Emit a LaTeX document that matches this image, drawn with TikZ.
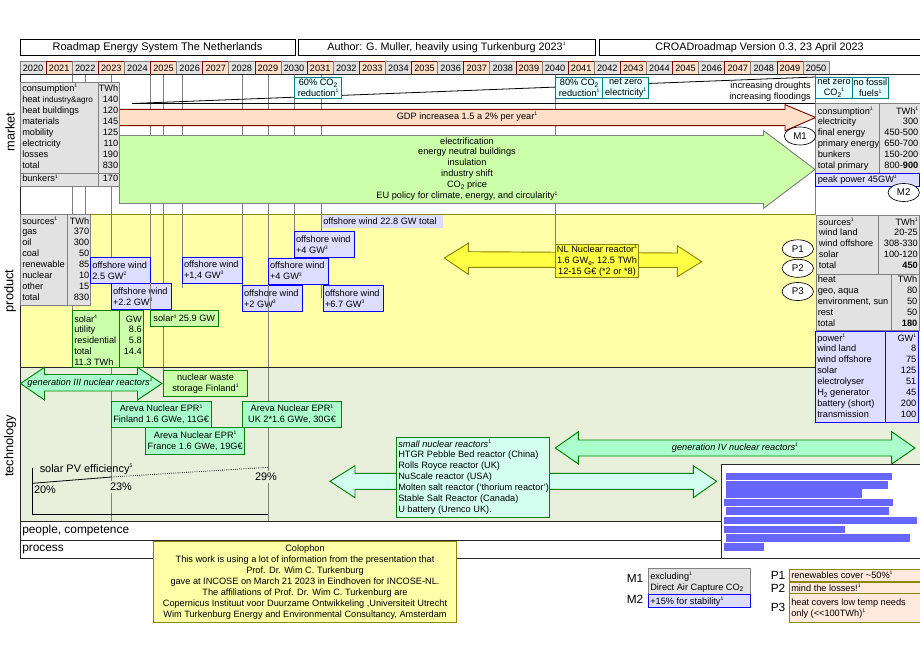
\documentclass[tikz,border=0pt]{standalone}
\usepackage{fontspec}
\usepackage{xcolor}
\usetikzlibrary{shapes.geometric}
\setmainfont{Liberation Sans}

\definecolor{peachfill}{HTML}{FFDFC8}
\definecolor{greyfill}{HTML}{E2E2E2}
\definecolor{lavfill}{HTML}{DDDDFF}
\definecolor{leaffill}{HTML}{CCFFAA}
\definecolor{mintfill}{HTML}{AAFFCC}
\definecolor{icefill}{HTML}{D2FFF0}
\definecolor{creamfill}{HTML}{FFFFA8}
\definecolor{sunfill}{HTML}{FFFF44}
\definecolor{techfill}{HTML}{E8F0DC}
\definecolor{tealfill}{HTML}{E4FFFF}
\definecolor{notefill}{HTML}{FFE9DC}

\newcommand{\refmark}[1]{\raisebox{.75ex}{\fontsize{3.8}{4}\selectfont #1}}
\newcommand{\lowmark}[1]{\raisebox{-.35ex}{\fontsize{5}{5}\selectfont #1}}

% rows of a table: name, x of left column, x of right column, first baseline, rows
\newcommand{\tablerows}[5]{
  \foreach \ltxt/\rtxt [count=\r] in {#5} {
    \node[celltxt,anchor=base west] (#1l\r) at (#2,{#4+10.97*(\r-1)}) {\ltxt};
    \node[celltxt,anchor=base east] (#1r\r) at (#3,{#4+10.97*(\r-1)}) {\rtxt};
  }
}
% offshore wind box: name, corners, second line
\newcommand{\windbox}[6]{
  \draw[bluebox] (#2,#3) rectangle (#4,#5);
  \node[boxtxt,align=left,anchor=west] (#1) at ({#2+1.5},{(#3+#5)/2}) {offshore wind\\#6};
}

\tikzset{
  celltxt/.style={inner sep=0pt,font=\fontsize{6.9}{8.2}\selectfont},
  boxtxt/.style={inner sep=0pt,align=center,font=\fontsize{6.9}{8.2}\selectfont},
  bigtxt/.style={inner sep=0pt,font=\fontsize{8.9}{10}\selectfont},
  pvtxt/.style={inner sep=0pt,font=\fontsize{8.2}{9}\selectfont},
  sidetxt/.style={inner sep=0pt,rotate=90,font=\fontsize{9.6}{10}\selectfont},
  titlebox/.style={draw=black,fill=white,line width=0.6pt},
  yeargrey/.style={draw=gray,fill=greyfill,line width=0.6pt},
  yearpeach/.style={draw=red!50!black,fill=peachfill,line width=0.6pt},
  greybox/.style={draw=gray,fill=greyfill,line width=0.6pt},
  bluebox/.style={draw=blue,fill=lavfill,line width=0.7pt},
  leafbox/.style={draw=green!50!black,fill=leaffill,line width=0.7pt},
  mintbox/.style={draw=green!50!black,fill=mintfill,line width=0.7pt},
  icebox/.style={draw=green!50!black,fill=icefill,line width=0.6pt},
  tealbox/.style={draw=teal,fill=tealfill,line width=0.6pt},
  olivebox/.style={draw=olive,fill=notefill,line width=0.7pt},
  gridline/.style={draw=gray,line width=0.6pt},
  frameline/.style={draw=black!85,line width=0.6pt},
  oval/.style={ellipse,draw=black,fill=white,inner sep=0pt,line width=0.5pt,
    minimum width=23.5pt,minimum height=13.5pt,font=\fontsize{7.3}{8.2}\selectfont},
}

\begin{document}
\begin{tikzpicture}[x=0.75pt,y=-0.75pt]
\useasboundingbox (0,0) rectangle (920,660);

% section backgrounds
\fill[creamfill] (20,214) rectangle (815.7,367);
\fill[techfill] (20,367) rectangle (920,521);

% titles
\draw[titlebox] (20,39.3) rectangle (295,55.3) node[midway,font=\fontsize{8.25}{9}\selectfont] (title) {Roadmap Energy System The Netherlands};
\draw[titlebox] (298,39.3) rectangle (595,55.3) node[midway,font=\fontsize{8.1}{9}\selectfont] (author) {Author: G. Muller, heavily using Turkenburg 2023\refmark{1}};
\draw[titlebox] (599,39.3) rectangle (920,55.3) node[midway,font=\fontsize{8.1}{9}\selectfont] (version) {CROADroadmap Version 0.3, 23 April 2023};

% years
\foreach \yr [count=\i from 0] in {2020,...,2050} {
  \pgfmathsetmacro{\xa}{20+26.1*\i}
  \pgfmathsetmacro{\xb}{20+26.1*(\i+1)}
  \ifodd\i
    \draw[yearpeach] (\xa,61.8) rectangle (\xb,74.5) node[midway,font=\fontsize{6.9}{8}\selectfont] (y\yr) {\yr};
  \else
    \draw[yeargrey] (\xa,61.8) rectangle (\xb,74.5) node[midway,font=\fontsize{6.9}{8}\selectfont] (y\yr) {\yr};
  \fi
}

% grid lines falling from the year row
\foreach \xpos/\yend in {72.5/367,85.5/214,111.5/521,150.5/317,163.5/370,182.5/288,242.5/285,294.5/232,321.5/298,555.5/244,815.7/214} {
  \draw[gridline] (\xpos,74.5) -- (\xpos,\yend);
}
\draw[gridline] (268.5,74.5) -- (268.5,521);

% frame
\draw[frameline] (20,74.5) -- (920,74.5);
\draw[frameline] (20,74.5) -- (20,558);
\draw[draw=olive,line width=0.6pt] (20,214) -- (815.7,214);
\draw[frameline] (20,367) -- (815.7,367);
\draw[frameline] (20,521) -- (722,521);
\draw[frameline] (20,540) -- (722,540);
\draw[frameline] (20,558) -- (722,558);
\draw[draw=black,line width=0.6pt] (132,103.5) -- (815.7,103.5);
\draw[draw=black,line width=0.6pt] (132,103.5) -- (815.7,77);

\node[sidetxt] (market) at (10,132) {market};
\node[sidetxt] (product) at (10,291) {product};
\node[sidetxt] (technology) at (10,446) {technology};
\node[bigtxt,anchor=base west] (people) at (22,533.5) {people, competence};
\node[bigtxt,anchor=base west] (process) at (22,551.5) {process};

% market: CO2 goals
\draw[tealbox] (294.5,77.3) rectangle (341.7,98.5) node[midway,boxtxt] (goal60) {60\% CO\lowmark{2}\\reduction\refmark{1}};
\draw[tealbox] (555.7,77.3) rectangle (602.7,98.5) node[midway,boxtxt] (goal80) {80\% CO\lowmark{2}\\reduction\refmark{1}};
\draw[tealbox] (602.7,77.3) rectangle (648.7,98.5) node[midway,boxtxt] (goalelec) {net zero\\electricity\refmark{1}};
\draw[tealbox] (815.7,77.3) rectangle (852.3,98.5) node[midway,boxtxt] (goalco) {net zero\\CO\lowmark{2}\refmark{1}};
\draw[tealbox] (852.3,77.3) rectangle (888.3,98.5) node[midway,boxtxt] (goalfuel) {no fossil\\fuels\refmark{1}};
\node[boxtxt,align=right,anchor=east] (climate) at (811,92) {increasing droughts\\increasing floodings};

% market: arrows
\draw[draw=red!50!black,fill=peachfill,line width=0.7pt] (119.5,109.3) -- (785,109.3) -- (785,104.7) -- (815.7,117.5) -- (785,130.8) -- (785,125.7) -- (119.5,125.7) -- cycle;
\node[boxtxt] (gdp) at (467,117) {GDP increasea 1.5 a 2\% per year\refmark{1}};
\draw[draw=gray,fill=leaffill,line width=0.7pt] (119.5,135.5) -- (763.5,135.5) -- (763.5,130.6) -- (815,169.5) -- (763.5,208.3) -- (763.5,203.5) -- (119.5,203.5) -- cycle;
\node[boxtxt] (policy) at (467,169) {electrification\\energy neutral buildings\\insulation\\industry shift\\CO\lowmark{2} price\\EU policy for climate, energy, and circularity\refmark{1}};

% market: consumption now
\draw[greybox] (20.5,82.3) rectangle (119.3,173.3);
\draw[greybox] (20.5,173.3) rectangle (119.3,186.3);
\draw[gridline] (98.5,82.3) -- (98.5,186.3);
\tablerows{cons}{22}{118.5}{91.5}{consumption\refmark{1}/TWh,heat {\fontsize{6.1}{8}\selectfont industry\&agro}/140,heat buildings/120,materials/145,mobility/125,electricity/110,losses/190,total/830}
\node[celltxt,anchor=base west] (bunk) at (22,181.8) {bunkers\refmark{1}};
\node[celltxt,anchor=base east] (bunkval) at (118.5,181.8) {170};

% market: consumption 2050
\draw[greybox] (815.7,103.3) rectangle (920,173);
\draw[gridline] (879.3,103.3) -- (879.3,173);
\tablerows{fut}{817.5}{918.5}{114}{consumption\refmark{1}/TWh\refmark{1},electricity/300,final energy/450-500,primary energy/650-700,bunkers/150-200,total primary/800-\textbf{900}}
\draw[bluebox] (815.7,173) rectangle (919,186);
\node[celltxt,anchor=base west] (peak) at (817.5,182.5) {peak power 45GW\refmark{1}};
\node[oval] (M1) at (800,136) {M1};
\node[oval] (M2) at (903.7,192.5) {M2};

% product: sources now
\draw[greybox] (20.5,214.5) rectangle (90.7,305.7);
\draw[gridline] (67.7,214.5) -- (67.7,305.7);
\tablerows{src}{22}{89.5}{224}{sources\refmark{1}/TWh,gas/370,oil/300,coal/50,renewable/85,nuclear/10,other/15,total/830}

% product: offshore wind
\fill[lavfill] (321.7,215) rectangle (442.7,228.3);
\node[boxtxt,anchor=base west] (windall) at (323,224.7) {offshore wind 22.8 GW total};
\windbox{wind1}{90.7}{257.3}{150}{283.3}{2.5 GW\refmark{2}}
\windbox{wind2}{111.3}{283.3}{171.7}{309.7}{+2.2 GW\refmark{3}}
\windbox{wind3}{182.3}{257.3}{242.3}{283.3}{+1,4 GW\refmark{3}}
\windbox{wind4}{242.3}{285}{302.3}{311.7}{+2 GW\refmark{3}}
\windbox{wind5}{294.3}{231.3}{354.3}{257.3}{+4 GW\refmark{3}}
\windbox{wind6}{268.3}{258}{328.7}{284.3}{+4 GW\refmark{3}}
\windbox{wind7}{323.3}{285}{383.3}{311.7}{+6.7 GW\refmark{3}}
\draw[gridline] (150.5,283.3) -- (150.5,310);
\draw[gridline] (268.5,285) -- (268.5,311.7);

% product: solar
\draw[leafbox] (72.5,310.3) rectangle (143.3,367);
\draw[draw=green!50!black,line width=0.7pt] (119.3,310.3) -- (119.3,367);
\tablerows{sol}{74}{142}{322}{solar\refmark{4}/GW,utility/8.6,residential/5.8,total/14.4,11.3 TWh/}
\draw[leafbox] (150.3,310.3) rectangle (218.3,326.3) node[midway,celltxt] (solar2) {solar\refmark{4} 25.9 GW};

% product: nuclear plan
\draw[draw=olive,fill=sunfill,line width=0.7pt] (444.3,258) -- (468.3,243.3) -- (468.3,251.7) -- (677.3,253) -- (677.3,245.7) -- (701.7,261.7) -- (677.3,276.7) -- (677.3,267.5) -- (468.3,267.3) -- (468.3,274.3) -- cycle;
\draw[draw=olive,fill=sunfill,line width=0.7pt] (555.5,244) rectangle (638.5,277.7) node[midway,boxtxt] (nlnuc) {NL Nuclear reactor\refmark{1}\\1.6 GW\lowmark{e}, 12.5 TWh\\12-15 G€ (*2 or *8)};

% product: ovals
\node[oval] (P1) at (797.8,248.8) {P1};
\node[oval] (P2) at (797.8,268.3) {P2};
\node[oval] (P3) at (797.8,291.5) {P3};

% product: sources 2050
\draw[greybox] (816,215) rectangle (919,274.3);
\draw[gridline] (878.3,215) -- (878.3,274.3);
\tablerows{new}{818.5}{918}{225}{sources\refmark{1}/TWh\refmark{1},wind land/20-25,wind offshore/308-330,solar/100-120,total/\textbf{450}}
\draw[greybox] (816,274.3) rectangle (919,330.3);
\draw[gridline] (891.3,274.3) -- (891.3,330.3);
\tablerows{heat}{817.5}{917.5}{282.7}{heat/TWh,{geo, aqua}/80,{environment, sun}/50,rest/50,total/\textbf{180}}
\draw[bluebox] (815.3,331) rectangle (918.7,422.3);
\draw[draw=blue,line width=0.7pt] (885.3,331) -- (885.3,422.3);
\tablerows{pow}{817}{916.5}{341}{power\refmark{1}/GW\refmark{1},wind land/8,wind offshore/75,solar/125,electrolyser/51,H\lowmark{2} generator/45,battery (short)/200,transmission/100}

% technology: arrows and boxes
\draw[draw=green!50!black,fill=mintfill,line width=0.7pt] (20.5,383.5) -- (44.5,367.3) -- (44.5,374.5) -- (137.5,374.5) -- (137.5,367.3) -- (162,383.5) -- (137.5,400) -- (137.5,391) -- (44.5,391) -- (44.5,400) -- cycle;
\node[boxtxt,font=\fontsize{6.9}{8.2}\selectfont\itshape] (gen3) at (90,383) {generation III nuclear reactors\refmark{1}};
\draw[leafbox] (163.3,370.3) rectangle (247.7,396.7) node[midway,boxtxt] (waste) {nuclear waste\\storage Finland\refmark{1}};
\draw[mintbox] (111.3,401) rectangle (211,427.3) node[midway,boxtxt] (epr1) {Areva Nuclear EPR\refmark{1}\\Finland 1.6 GWe, 11G€};
\draw[mintbox] (145.7,427.7) rectangle (244.7,454.3) node[midway,boxtxt] (epr2) {Areva Nuclear EPR\refmark{1}\\France 1.6 GWe, 19G€};
\draw[mintbox] (242.5,401) rectangle (341.5,427.3) node[midway,boxtxt] (epr3) {Areva Nuclear EPR\refmark{1}\\UK 2*1.6 GWe, 30G€};

\draw[draw=green!50!black,fill=icefill,line width=0.7pt] (330,481.3) -- (355,465.7) -- (355,473.3) -- (693.3,473.3) -- (693.3,465.7) -- (716.7,481.3) -- (693.3,497.7) -- (693.3,489.3) -- (355,489.3) -- (355,497.7) -- cycle;
\draw[icebox] (396.3,437.7) rectangle (549.7,517.3);
\tablerows{smr}{398}{548.5}{447}{\textit{small nuclear reactors}\refmark{1}/,HTGR Pebble Bed reactor (China)/,Rolls Royce reactor (UK)/,NuScale reactor (USA)/,Molten salt reactor (‘thorium reactor’)/,Stable Salt Reactor (Canada)/,U battery (Urenco UK)./}

\draw[draw=green!50!black,fill=mintfill,line width=0.7pt] (555.3,448) -- (578.3,431.7) -- (578.3,440) -- (891.7,440) -- (891.7,431.7) -- (915,448) -- (891.7,464) -- (891.7,456) -- (578.3,456) -- (578.3,464) -- cycle;
\node[boxtxt,font=\fontsize{6.9}{8.2}\selectfont\itshape] (gen4) at (735,447.5) {generation IV nuclear reactors\refmark{1}};

% technology: solar efficiency graph
\draw[draw=black,line width=0.6pt] (32.5,468) -- (32.5,514.3) -- (268,514.3);
\draw[draw=black,line width=0.6pt] (32.5,483.3) -- (111.5,477);
\draw[draw=black,line width=0.6pt,densely dotted] (111.5,477) -- (268,467.3);
\node[pvtxt,anchor=base west] (pvtitle) at (39.5,472) {solar PV efficiency\refmark{5}};
\node[pvtxt] (pv20) at (45,489.5) {20\%};
\node[pvtxt,fill=techfill,inner sep=1.5pt] (pv23) at (121,487) {23\%};
\node[pvtxt,fill=techfill,inner sep=1.5pt] (pv29) at (266,476.7) {29\%};

% white sheet with hidden text
\draw[draw=black!85,fill=white,line width=0.6pt] (721.5,464.3) rectangle (920,558);
\foreach \xa/\xb/\ya/\yb in {725.7/892/472.7/480,725.7/888/481/489,725.7/862/489.3/498,724/893/499/506,725.7/889/507/515,724/917/517/524,724/845/526/533,725.7/910/534/542,724/764/543/551} {
  \fill[blue!60] (\xa,\ya) rectangle (\xb,\yb);
}

% colophon
\draw[draw=olive,fill=creamfill,line width=0.7pt] (153.3,541) rectangle (456.7,622.7) node[midway,boxtxt] (colophon) {Colophon\\This work is using a lot of information from the presentation that\\Prof. Dr. Wim C. Turkenburg\\gave at INCOSE on March 21 2023 in Eindhoven for INCOSE-NL.\\The affiliations of Prof. Dr. Wim C. Turkenburg are\\Copernicus Instituut voor Duurzame Ontwikkeling ,Universiteit Utrecht\\Wim Turkenburg Energy and Environmental Consultancy, Amsterdam};

% legend
\node[bigtxt] (legM1) at (635,578) {M1};
\node[bigtxt] (legM2) at (635,599) {M2};
\draw[greybox] (648.3,568.3) rectangle (750.7,594.3);
\node[celltxt,anchor=base west] (noteM1a) at (650,579) {excluding\refmark{1}};
\node[celltxt,anchor=base west] (noteM1b) at (650,590) {Direct Air Capture CO\lowmark{2}};
\draw[bluebox] (648.3,594.3) rectangle (750.7,607.7);
\node[celltxt,anchor=base west] (noteM2) at (650,604) {+15\% for stability\refmark{1}};
\node[bigtxt] (legP1) at (778,575.7) {P1};
\node[bigtxt] (legP2) at (778,588.5) {P2};
\node[bigtxt] (legP3) at (778,607) {P3};
\draw[olivebox] (789.3,569) rectangle (920,581.7);
\node[celltxt,anchor=base west] (noteP1) at (791,578.5) {renewables cover \textasciitilde50\%\refmark{1}};
\draw[olivebox] (789.3,582.3) rectangle (920,593.3);
\node[celltxt,anchor=base west] (noteP2) at (791,591) {mind the losses!\refmark{1}};
\draw[olivebox] (789.3,593.3) rectangle (920,622.7);
\node[celltxt,anchor=base west] (noteP3a) at (791,605.5) {heat covers low temp needs};
\node[celltxt,anchor=base west] (noteP3b) at (791,616.5) {only ({<}{<}100TWh)\refmark{1}};
\end{tikzpicture}
\end{document}
